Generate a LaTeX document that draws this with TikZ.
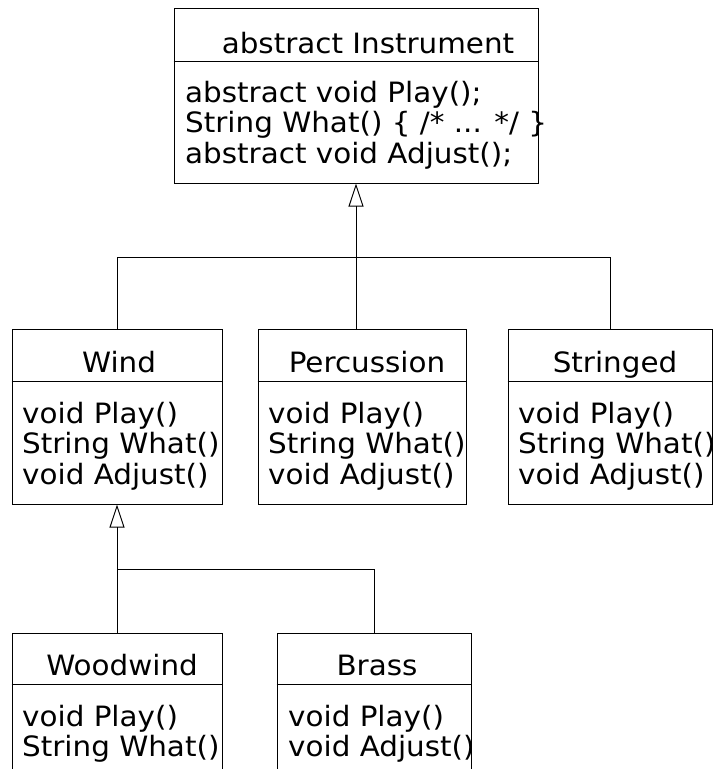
\documentclass[tikz,border=0pt]{standalone}
\usepackage{fontspec}
\setmainfont[FakeStretch=1.05]{DejaVu Sans}
\usetikzlibrary{arrows.meta}
\tikzset{
  cls/.style={draw=black, line width=1pt, inner sep=0pt, minimum height=175pt},
  ttl/.style={anchor=base, inner sep=0pt, font=\fontsize{28}{30.5}\selectfont},
  txt/.style={anchor=base west, inner sep=0pt, font=\fontsize{28}{30.5}\selectfont},
  conn/.style={draw=black, line width=1pt},
  gen/.style={conn, -{Triangle[open, length=23pt, width=15pt, line width=1pt]}},
}
\begin{document}
\begin{tikzpicture}[x=1pt,y=-1pt]
\useasboundingbox (0,0) rectangle (715,769);
\clip (0,0) rectangle (715,769);
% boxes
\node[cls, minimum width=364pt] (instr) at (356,95.5) {};
\node[cls, minimum width=210pt] (wind) at (117,416.5) {};
\node[cls, minimum width=208pt] (perc) at (362,416.5) {};
\node[cls, minimum width=204pt] (string) at (610,416.5) {};
\node[cls, minimum width=210pt] (wood) at (117,720.5) {};
\node[cls, minimum width=194pt] (brass) at (374,720.5) {};
% dividers
\draw[conn] (instr.west |- 0,61) -- (instr.east |- 0,61);
\draw[conn] (wind.west |- 0,381) -- (wind.east |- 0,381);
\draw[conn] (perc.west |- 0,381) -- (perc.east |- 0,381);
\draw[conn] (string.west |- 0,381) -- (string.east |- 0,381);
\draw[conn] (wood.west |- 0,684) -- (wood.east |- 0,684);
\draw[conn] (brass.west |- 0,684) -- (brass.east |- 0,684);
% titles
\node[ttl] (instrT) at (368,53) {abstract Instrument};
\node[ttl] (windT) at (119,372) {Wind};
\node[ttl] (percT) at (367,372) {Percussion};
\node[ttl] (stringT) at (615,372) {Stringed};
\node[ttl] (woodT) at (122,675) {Woodwind};
\node[ttl] (brassT) at (377,675) {Brass};
% bodies
\node[txt] (instrB) at (185,102) {\vtop{\hbox{abstract void Play();}\hbox{String What() \{ /* ... */ \}}\hbox{abstract void Adjust();}}};
\node[txt] (windB) at (22,423) {\vtop{\hbox{void Play()}\hbox{String What()}\hbox{void Adjust()}}};
\node[txt] (percB) at (268,423) {\vtop{\hbox{void Play()}\hbox{String What()}\hbox{void Adjust()}}};
\node[txt] (stringB) at (518,423) {\vtop{\hbox{void Play()}\hbox{String What()}\hbox{void Adjust()}}};
\node[txt] (woodB) at (22,726) {\vtop{\hbox{void Play()}\hbox{String What()}}};
\node[txt] (brassB) at (288,726) {\vtop{\hbox{void Play()}\hbox{void Adjust()}}};
% connectors
\coordinate (j1) at (356,257);
\coordinate (j2) at (117,569);
\draw[gen] (perc.north -| instr.south) -- (instr.south);
\draw[conn] (wind.north) |- (j1);
\draw[conn] (string.north) |- (j1);
\draw[gen] (j2) -- (wind.south);
\draw[conn] (wood.north) -- (j2);
\draw[conn] (brass.north) |- (j2);
\end{tikzpicture}
\end{document}
